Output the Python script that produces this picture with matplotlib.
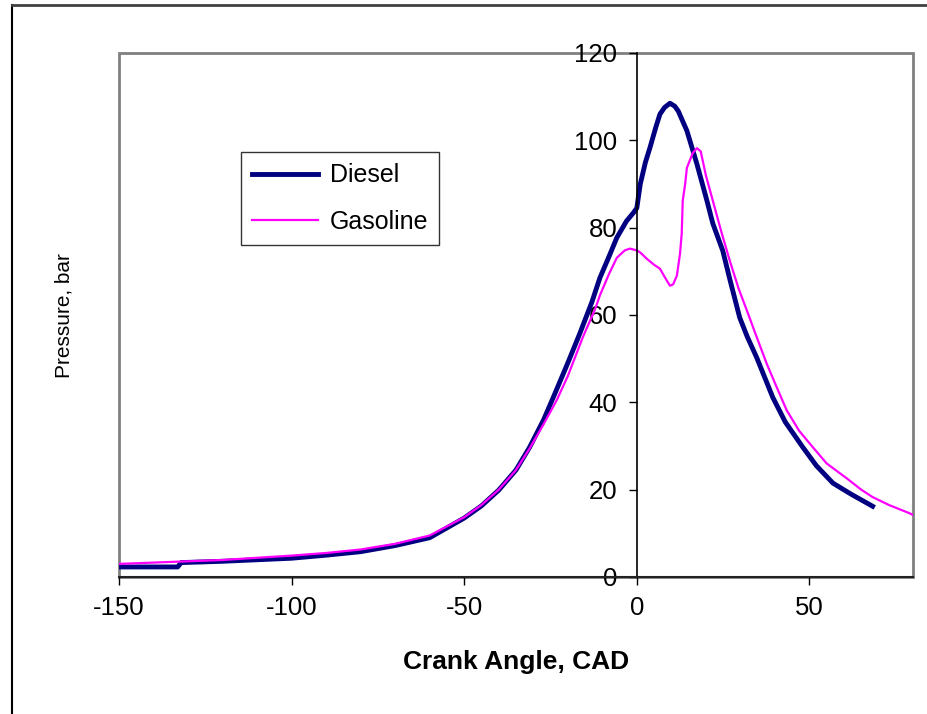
import matplotlib
matplotlib.use("Agg")
import matplotlib.pyplot as plt
from matplotlib.patches import Rectangle
from matplotlib.lines import Line2D

plt.rcParams['font.family'] = ['Liberation Sans', 'DejaVu Sans']
plt.rcParams['axes.unicode_minus'] = False

diesel_angle = [-150, -133, -132, -120, -100, -90, -80, -70, -60, -50, -45, -40, -35, -31, -27, -24,
                -20, -16.5, -13, -10.7, -8, -5.8, -3, -1, 0, 1, 2.5, 3.8, 5.5, 6.7, 8, 9.6, 11, 12,
                14.5, 17.4, 20.3, 22, 24.9, 27, 29.8, 32, 34.7, 39.4, 43, 48.1, 52, 56.8, 62, 68.3]
diesel_pressure = [2.3, 2.3, 3.3, 3.6, 4.3, 5.0, 5.8, 7.2, 9.0, 13.5, 16.3, 19.9, 24.5, 29.8, 36.0, 41.5,
                   49.0, 55.8, 63.0, 68.5, 73.5, 77.7, 81.5, 83.4, 84.5, 90.0, 95.0, 98.3, 103.0, 106.0,
                   107.5, 108.5, 107.8, 106.7, 102.2, 94.6, 86.2, 81.0, 74.7, 68.0, 59.4, 55.0, 50.3,
                   41.1, 35.5, 29.7, 25.5, 21.5, 19.0, 16.2]

gasoline_angle = [-150, -140, -130, -120, -100, -90, -80, -70, -60, -50, -45, -40, -35, -31, -27, -23.2,
                  -20, -15.6, -12, -10.7, -8, -5.8, -3.5, -2, 0, 1, 3, 5, 6.7, 8, 9.6, 10.5, 11.6,
                  12.5, 13, 13.3, 14, 14.5, 16.2, 17.4, 18.5, 20, 22, 24.5, 26.9, 29.5, 31.9, 34.7,
                  37.6, 40.5, 43.4, 47, 51, 55, 60.8, 65, 68.3, 73, 79, 80]
gasoline_pressure = [3.0, 3.3, 3.6, 3.9, 4.9, 5.5, 6.3, 7.6, 9.5, 13.7, 16.5, 20.0, 24.5, 29.5, 35.0, 40.5,
                     46.0, 55.0, 61.5, 64.5, 69.5, 73.1, 74.8, 75.2, 74.8, 74.3, 72.8, 71.5, 70.6, 68.8,
                     66.7, 67.0, 69.0, 74.0, 78.6, 86.2, 90.0, 93.7, 97.1, 98.2, 97.5, 92.0, 86.2, 79.0,
                     72.5, 66.0, 61.0, 55.0, 48.9, 43.5, 38.2, 33.5, 29.7, 26.0, 22.6, 20.0, 18.3, 16.5,
                     14.6, 14.2]

x_ticks = [-150, -100, -50, 0, 50]
y_ticks = [0, 20, 40, 60, 80, 100, 120]

W, H = 927, 714
fig = plt.figure(figsize=(W / 100, H / 100), dpi=100)
fig.patch.set_facecolor('white')

# outer chart border (clipped at right/bottom like the reference)
fig.add_artist(Line2D([12 / W, 12 / W], [0, 1 - 5 / H], color='black', lw=1.5, transform=fig.transFigure))
fig.add_artist(Line2D([12 / W, 1], [1 - 5 / H, 1 - 5 / H], color='#404040', lw=2, transform=fig.transFigure))

left, right, top, bottom = 119, 913, 53, 577
ax = fig.add_axes([left / W, 1 - bottom / H, (right - left) / W, (bottom - top) / H])

ax.plot(diesel_angle, diesel_pressure, color='#000080', lw=3.5, label='Diesel')
ax.plot(gasoline_angle, gasoline_pressure, color='#FF00FF', lw=1.6, label='Gasoline')

ax.set_xlim(-150, 80)
ax.set_ylim(0, 120)

# gray plot-area frame
ax.add_patch(Rectangle((0, 0), 1, 1, transform=ax.transAxes, fill=False,
                       edgecolor='#808080', lw=2, clip_on=False, zorder=0))
ax.spines['top'].set_visible(False)
ax.spines['right'].set_visible(False)
ax.spines['left'].set_position(('data', 0))
ax.spines['left'].set_color('black')
ax.spines['left'].set_linewidth(1.2)
ax.spines['bottom'].set_color('#222222')
ax.spines['bottom'].set_linewidth(1.5)

ax.set_xticks(x_ticks)
ax.set_yticks(y_ticks)
ax.tick_params(axis='both', direction='out', length=6, width=1, labelsize=18.5)
ax.tick_params(axis='x', pad=8)
ax.tick_params(axis='y', pad=8)

ax.set_xlabel('Crank Angle, CAD', fontsize=19, fontweight='bold', labelpad=21)
fig.text(64 / W, 1 - 316 / H, 'Pressure, bar', rotation=90, fontsize=15,
         ha='center', va='center')

leg = ax.legend(loc='upper left', bbox_to_anchor=((241 - left) / (right - left), 1 - (152 - top) / (bottom - top)),
                frameon=True, fancybox=False, fontsize=18, handlelength=2.64, handletextpad=0.45,
                borderpad=0.45, labelspacing=0.9, borderaxespad=0)
leg.get_frame().set_edgecolor('black')
leg.get_frame().set_linewidth(1)

fig.savefig('out.png', dpi=100)
